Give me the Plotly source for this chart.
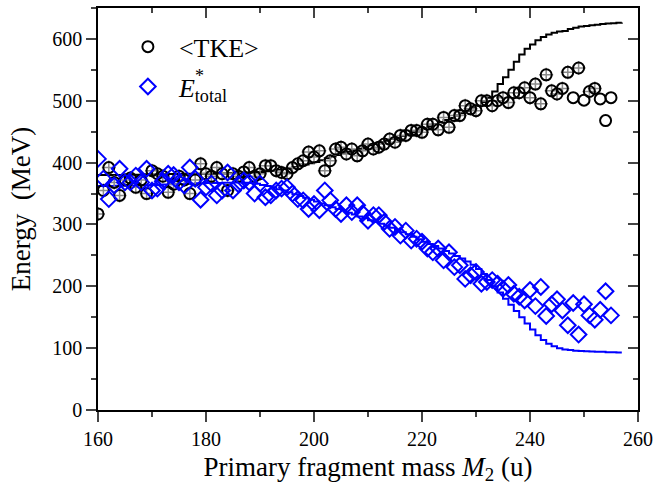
import plotly.graph_objects as go

# ---------------- data ----------------
mass_pts = list(range(160, 256))
tke_pts = [317, 355, 392, 368, 347, 372, 375, 360, 372, 350,
           387, 382, 378, 352, 365, 378, 372, 350, 372, 398,
           382, 378, 392, 382, 355, 382, 378, 385, 392, 378,
           382, 395, 395, 387, 384, 382, 392, 398, 403, 417,
           409, 419, 387, 403, 422, 425, 414, 422, 411, 419,
           430, 422, 425, 430, 438, 433, 444, 444, 452, 452,
           449, 462, 462, 453, 473, 457, 476, 476, 492, 487,
           484, 500, 500, 492, 500, 505, 497, 513, 513, 521,
           505, 527, 495, 542, 516, 511, 520, 546, 505, 553,
           501, 515, 520, 503, 468, 505]
# which TKE points carry the small grey error cross
tke_has_err = [m <= 247 or m in (249, 251, 252) for m in mass_pts]

estar_pts = [406, 374, 341, 363, 390, 368, 368, 379, 368, 390,
             355, 358, 370, 382, 380, 368, 363, 392, 374, 340,
             360, 366, 347, 355, 384, 355, 365, 371, 368, 350,
             366, 344, 347, 355, 358, 360, 350, 341, 339, 325,
             333, 323, 355, 339, 325, 317, 331, 320, 331, 318,
             306, 315, 315, 304, 293, 296, 282, 290, 274, 277,
             272, 261, 255, 261, 242, 255, 231, 234, 212, 218,
             223, 204, 207, 210, 204, 196, 202, 188, 183, 177,
             194, 168, 199, 152, 171, 179, 161, 137, 173, 122,
             171, 153, 146, 162, 192, 153]

mass_calc = list(range(160, 258))
tke_calc = [380, 380, 380, 380, 380, 380, 380.5, 380.5, 381, 381,
            381, 381, 381, 381.5, 381.5, 381.5, 382, 382, 382, 382,
            382, 382, 382.5, 382.5, 383, 383, 383, 383.5, 384, 384.5,
            385, 386, 387, 388, 389.5, 391, 393, 395, 397, 399,
            401, 404, 407, 410, 412.5, 415, 417.5, 420, 422.5, 425,
            428, 430.5, 433, 435.5, 438, 440, 443, 446, 449, 452,
            455, 458.5, 462, 465.5, 469, 472, 476, 480, 484, 488,
            492, 498, 505, 515, 527, 538, 550, 563, 575, 584,
            591, 598, 603, 607, 610, 612, 613, 616, 618, 620,
            621, 622, 623, 624, 625, 625.5, 626, 626.5]
estar_calc = [362, 362, 362, 362.5, 362.5, 363, 363, 363, 363.5, 363.5,
              364, 364, 364.5, 365, 365, 365.5, 366, 366, 366.5, 366.5,
              367, 367, 367, 367.5, 367.5, 368, 368, 367.5, 367, 366,
              364, 362, 360, 357, 355, 352, 349, 346, 343, 340,
              337, 334, 331, 328, 325, 322, 319, 316, 313, 310,
              307, 304, 301, 298, 294.5, 291, 287.5, 284, 280, 276,
              272, 268.5, 265, 261, 257, 253, 249, 245, 240, 235,
              228, 220, 210, 200, 190, 180, 170, 160, 150, 140,
              130, 121, 113, 107, 103, 100, 98, 97, 96, 95.5,
              95, 94.5, 94, 94, 93.5, 93.5, 93, 93]

x_ticks = [160, 180, 200, 220, 240, 260]
y_ticks = [0, 100, 200, 300, 400, 500, 600]

FONT = "Liberation Serif"

fig = go.Figure()

# calculated curves
fig.add_trace(go.Scatter(x=mass_calc, y=tke_calc, mode="lines", line=dict(color="black", width=2, shape="hv"),
                         showlegend=False, hoverinfo="skip"))
fig.add_trace(go.Scatter(x=mass_calc, y=estar_calc, mode="lines", line=dict(color="#0000ff", width=2, shape="hv"),
                         showlegend=False, hoverinfo="skip"))

# grey error crosses within TKE circles
ex = [m for m, h in zip(mass_pts, tke_has_err) if h]
ey = [v for v, h in zip(tke_pts, tke_has_err) if h]
fig.add_trace(go.Scatter(x=ex, y=ey, mode="markers",
                         marker=dict(symbol="cross-thin", size=10, color="#8a8a8a",
                                     line=dict(color="#8a8a8a", width=1.5)),
                         showlegend=False, hoverinfo="skip"))
fig.add_trace(go.Scatter(x=mass_pts, y=tke_pts, mode="markers", name="&lt;TKE&gt;", legendgroup="tke",
                         marker=dict(symbol="circle-open", size=11, color="black", line=dict(color="black", width=2))))
fig.add_trace(go.Scatter(x=mass_pts, y=estar_pts, mode="markers", legendgroup="estar",
                         name="<i>E</i><sub>total</sub>",
                         marker=dict(symbol="diamond-open", size=12, color="#0000ff", line=dict(color="#0000ff", width=2))))
# helper trace for top / right tick axes
fig.add_trace(go.Scatter(x=[], y=[], xaxis="x2", yaxis="y2", showlegend=False, hoverinfo="skip"))

fig.update_layout(
    width=659, height=495,
    margin=dict(l=98, r=16, t=6, b=85),
    paper_bgcolor="white", plot_bgcolor="white",
    font=dict(family=FONT, size=20, color="black"),
    xaxis=dict(range=[160, 260], tickvals=x_ticks, ticks="outside", ticklen=10, tickwidth=1.5,
               minor=dict(dtick=10, ticks="outside", ticklen=5, tickwidth=1.5),
               showline=True, linewidth=1.5, linecolor="black", mirror=True,
               showgrid=False, zeroline=False, tickfont=dict(family=FONT, size=20),
               title=dict(text="Primary fragment mass <i>M</i><sub>2</sub> (u)",
                          font=dict(family=FONT, size=27), standoff=8)),
    yaxis=dict(range=[0, 650], tickvals=y_ticks, ticks="outside", ticklen=10, tickwidth=1.5,
               minor=dict(dtick=50, ticks="outside", ticklen=5, tickwidth=1.5),
               showline=True, linewidth=1.5, linecolor="black", mirror=True,
               showgrid=False, zeroline=False, tickfont=dict(family=FONT, size=20),
               title=dict(text="Energy  (MeV)", font=dict(family=FONT, size=27), standoff=14)),
    xaxis2=dict(range=[160, 260], overlaying="x", side="top", anchor="y", tickvals=x_ticks,
                ticks="inside", ticklen=10, tickwidth=1.5, showticklabels=False,
                minor=dict(dtick=10, ticks="inside", ticklen=5, tickwidth=1.5),
                showline=False, showgrid=False, zeroline=False),
    yaxis2=dict(range=[0, 650], overlaying="y", side="right", anchor="x", tickvals=y_ticks,
                ticks="inside", ticklen=10, tickwidth=1.5, showticklabels=False,
                minor=dict(dtick=50, ticks="inside", ticklen=5, tickwidth=1.5),
                showline=False, showgrid=False, zeroline=False),
    legend=dict(x=0.035, y=0.962, xanchor="left", yanchor="top", bgcolor="rgba(0,0,0,0)",
                font=dict(family=FONT, size=26), itemwidth=52, tracegroupgap=3),
    annotations=[dict(text="*", xref="paper", yref="paper", x=0.188, y=0.83,
                      xanchor="center", yanchor="middle", showarrow=False,
                      font=dict(family=FONT, size=18, color="black"))],
)

fig.write_html("out.html")
